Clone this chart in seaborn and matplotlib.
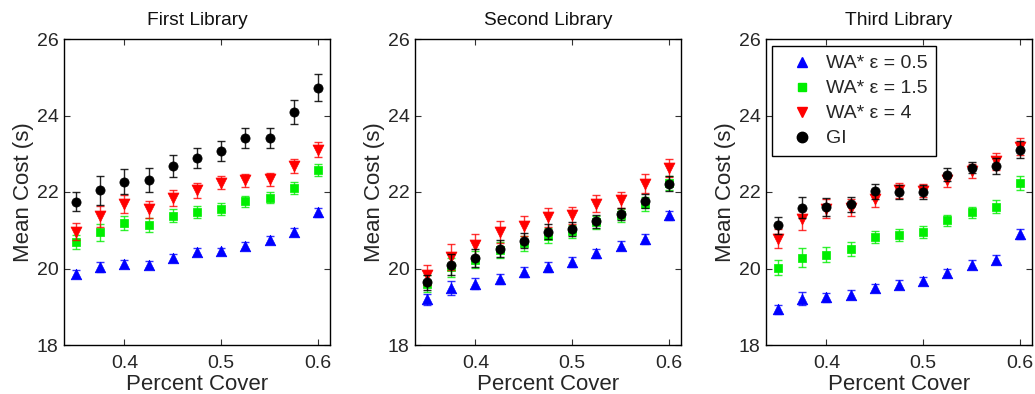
import numpy as np
import pandas as pd
import matplotlib
matplotlib.use("Agg")
import matplotlib.pyplot as plt
from matplotlib.lines import Line2D
import seaborn as sns

# ---------------- data ----------------
cover = [0.35, 0.375, 0.4, 0.425, 0.45, 0.475, 0.5, 0.525, 0.55, 0.575, 0.6]
libraries = ["First Library", "Second Library", "Third Library"]
series_names = ["WA* ε = 0.5", "WA* ε = 1.5", "WA* ε = 4", "GI"]

# First library
lib1_wa05 = [19.86, 20.03, 20.12, 20.10, 20.28, 20.44, 20.45, 20.59, 20.75, 20.95, 21.47]
lib1_wa15 = [20.69, 20.95, 21.19, 21.14, 21.38, 21.48, 21.55, 21.76, 21.85, 22.11, 22.58]
lib1_wa4 = [20.96, 21.36, 21.68, 21.55, 21.84, 22.04, 22.24, 22.31, 22.33, 22.68, 23.11]
lib1_gi = [21.75, 22.04, 22.27, 22.32, 22.68, 22.89, 23.08, 23.42, 23.41, 24.10, 24.73]
lib1_wa05_err = [0.10, 0.13, 0.10, 0.09, 0.10, 0.10, 0.09, 0.09, 0.09, 0.10, 0.12]
lib1_wa15_err = [0.18, 0.22, 0.18, 0.18, 0.17, 0.16, 0.15, 0.14, 0.14, 0.15, 0.16]
lib1_wa4_err = [0.22, 0.28, 0.24, 0.22, 0.20, 0.19, 0.17, 0.17, 0.17, 0.18, 0.20]
lib1_gi_err = [0.25, 0.38, 0.33, 0.31, 0.28, 0.27, 0.26, 0.26, 0.26, 0.31, 0.36]

# Second library
lib2_wa05 = [19.19, 19.49, 19.60, 19.73, 19.90, 20.05, 20.17, 20.40, 20.60, 20.77, 21.39]
lib2_wa15 = [19.60, 20.03, 20.23, 20.49, 20.66, 20.86, 20.97, 21.21, 21.39, 21.68, 22.24]
lib2_wa4 = [19.83, 20.30, 20.62, 20.95, 21.11, 21.34, 21.39, 21.69, 21.80, 22.22, 22.63]
lib2_gi = [19.64, 20.10, 20.27, 20.52, 20.73, 20.96, 21.03, 21.24, 21.43, 21.76, 22.22]
lib2_wa05_err = [0.14, 0.18, 0.14, 0.13, 0.13, 0.13, 0.12, 0.12, 0.12, 0.12, 0.12]
lib2_wa15_err = [0.22, 0.25, 0.22, 0.21, 0.20, 0.20, 0.18, 0.17, 0.17, 0.18, 0.18]
lib2_wa4_err = [0.27, 0.33, 0.29, 0.28, 0.27, 0.25, 0.22, 0.22, 0.21, 0.24, 0.24]
lib2_gi_err = [0.20, 0.28, 0.24, 0.22, 0.20, 0.20, 0.18, 0.17, 0.16, 0.19, 0.20]

# Third library
lib3_wa05 = [18.93, 19.21, 19.25, 19.32, 19.49, 19.58, 19.67, 19.88, 20.10, 20.23, 20.91]
lib3_wa15 = [20.02, 20.28, 20.36, 20.51, 20.82, 20.87, 20.95, 21.26, 21.47, 21.62, 22.23]
lib3_wa4 = [20.78, 21.30, 21.56, 21.59, 21.83, 22.04, 22.03, 22.31, 22.55, 22.80, 23.18]
lib3_gi = [21.13, 21.59, 21.61, 21.68, 22.02, 22.00, 22.00, 22.45, 22.64, 22.68, 23.11]
lib3_wa05_err = [0.12, 0.17, 0.12, 0.11, 0.11, 0.11, 0.11, 0.11, 0.11, 0.12, 0.13]
lib3_wa15_err = [0.20, 0.25, 0.20, 0.19, 0.16, 0.16, 0.15, 0.15, 0.14, 0.16, 0.19]
lib3_wa4_err = [0.25, 0.30, 0.25, 0.23, 0.22, 0.20, 0.17, 0.18, 0.18, 0.22, 0.22]
lib3_gi_err = [0.22, 0.28, 0.24, 0.20, 0.20, 0.18, 0.18, 0.17, 0.15, 0.20, 0.22]

y_ticks = [18, 20, 22, 24, 26]
x_ticks = [0.4, 0.5, 0.6]
x_tick_labels = ["0.4", "0.5", "0.6"]

# --------------- build long table ---------------
all_vals = [
    [lib1_wa05, lib1_wa15, lib1_wa4, lib1_gi],
    [lib2_wa05, lib2_wa15, lib2_wa4, lib2_gi],
    [lib3_wa05, lib3_wa15, lib3_wa4, lib3_gi],
]
all_errs = [
    [lib1_wa05_err, lib1_wa15_err, lib1_wa4_err, lib1_gi_err],
    [lib2_wa05_err, lib2_wa15_err, lib2_wa4_err, lib2_gi_err],
    [lib3_wa05_err, lib3_wa15_err, lib3_wa4_err, lib3_gi_err],
]
rows = []
for li, lib in enumerate(libraries):
    for si, s in enumerate(series_names):
        for x, v, e in zip(cover, all_vals[li][si], all_errs[li][si]):
            rows.append({"library": lib, "series": s, "cover": x, "cost": v, "err": e})
df = pd.DataFrame(rows)

# --------------- style ---------------
sns.set_theme(style="ticks")
plt.rcParams["font.family"] = ["Liberation Sans", "DejaVu Sans"]
plt.rcParams["xtick.direction"] = "in"
plt.rcParams["ytick.direction"] = "in"

colors = {"WA* ε = 0.5": "#0000ff", "WA* ε = 1.5": "#00ee00",
          "WA* ε = 4": "#ff0000", "GI": "#000000"}
markers = {"WA* ε = 0.5": "^", "WA* ε = 1.5": "s", "WA* ε = 4": "v", "GI": "o"}
sizes = {"WA* ε = 0.5": 58, "WA* ε = 1.5": 34, "WA* ε = 4": 62, "GI": 44}

fig = plt.figure(figsize=(10.35, 3.94), dpi=100)
lefts = [64, 415, 766]
axes = []
for L in lefts:
    axes.append(fig.add_axes([L / 1035, 1 - 345 / 394, 266 / 1035, 306 / 394]))

for ax, lib in zip(axes, libraries):
    sub = df[df["library"] == lib]
    for k, s in enumerate(series_names):
        d = sub[sub["series"] == s]
        ax.errorbar(d["cover"], d["cost"], yerr=d["err"], fmt="none",
                    ecolor=colors[s], elinewidth=1.0, capsize=2.6, capthick=1.0,
                    alpha=0.8 if s != "GI" else 0.85, zorder=2 + 2 * k)
        sns.scatterplot(x=d["cover"], y=d["cost"], ax=ax, color=colors[s],
                        marker=markers[s], s=sizes[s], edgecolor=colors[s],
                        linewidth=0.5, zorder=3 + 2 * k, legend=False)
    ax.set_xlim(0.3375, 0.6125)
    ax.set_ylim(18, 26)
    ax.set_xticks(x_ticks)
    ax.set_xticklabels(x_tick_labels)
    ax.set_yticks(y_ticks)
    ax.tick_params(axis="both", labelsize=14, length=4, width=0.8, top=True,
                   right=True, color="#333333")
    ax.tick_params(axis="x", pad=7)
    ax.tick_params(axis="y", pad=4)
    for sp in ax.spines.values():
        sp.set_visible(True)
        sp.set_linewidth(1.0)
        sp.set_color("black")
    ax.set_xlabel("Percent Cover", fontsize=16, labelpad=2)
    ax.set_ylabel("Mean Cost (s)", fontsize=16, labelpad=2)
    ax.set_title(lib, fontsize=13.8, pad=10, color="#111111")

# legend in third panel
handles = [Line2D([], [], linestyle="none", marker=markers[s], color=colors[s],
                  markersize=7.5 if s != "WA* ε = 1.5" else 6) for s in series_names]
leg = axes[2].legend(handles, series_names, loc="upper left",
                     bbox_to_anchor=(0.023, 0.977), borderaxespad=0,
                     fontsize=14, frameon=True,
                     fancybox=False, edgecolor="black", framealpha=1,
                     handletextpad=0.1, borderpad=0.45, labelspacing=0.38,
                     handlelength=2.2)
leg.get_frame().set_linewidth(1.0)

fig.savefig("out.png", dpi=100)
